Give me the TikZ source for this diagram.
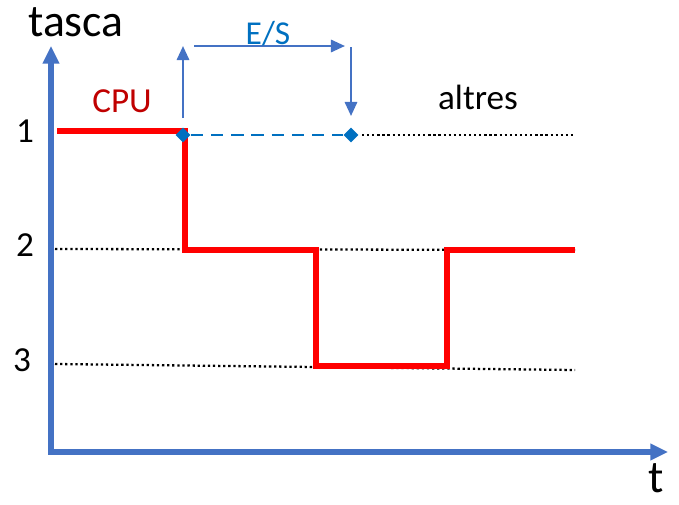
\documentclass[tikz,border=0pt]{standalone}
\usepackage{fontspec}
\setmainfont{Carlito}
\usetikzlibrary{arrows.meta,shapes.geometric}
\definecolor{axisblue}{HTML}{4472C4}
\definecolor{esblue}{HTML}{0070C0}
\definecolor{cpured}{HTML}{C00000}
\tikzset{
  axisline/.style={axisblue, line width=2.9pt, line join=miter,
    {Triangle[length=10pt,width=9pt]}-{Triangle[length=10pt,width=9pt]}},
  esarrow/.style={axisblue, line width=1.3pt, -{Triangle[length=8pt,width=7pt]}},
  levelline/.style={line width=1.3pt, dash pattern=on 1.3pt off 1.6pt},
  taskline/.style={red, line width=3pt, line join=miter},
  esmark/.style={diamond, fill=esblue, inner sep=0pt, minimum size=8.5pt},
  bigtext/.style={font=\fontsize{26}{30}\selectfont},
  midtext/.style={font=\fontsize{20}{24}\selectfont}
}
\begin{document}
\begin{tikzpicture}[x=0.02cm, y=-0.02cm]
  \useasboundingbox (0,0) rectangle (679,504);
  % axes
  \coordinate (O) at (51,452); \coordinate (YT) at (51,46); \coordinate (XT) at (668,452);
  % level lines
  \coordinate (L1a) at (362,135); \coordinate (L1b) at (575,135);
  \coordinate (L2a) at (55,249); \coordinate (L2b) at (575,250);
  \coordinate (L3a) at (55,364); \coordinate (L3b) at (575,370);
  \draw[levelline] (L1a) -- (L1b);
  \draw[levelline] (L2a) -- (L2b);
  \draw[levelline] (L3a) -- (L3b);
  % the task that holds the CPU
  \coordinate (R1) at (57,131); \coordinate (R2) at (185,131);
  \coordinate (R3) at (185,250); \coordinate (R4) at (316,250);
  \coordinate (R5) at (316,366); \coordinate (R6) at (447,366);
  \coordinate (R7) at (447,250); \coordinate (R8) at (575,250);
  \draw[taskline] (R1) -- (R2) -- (R3) -- (R4) -- (R5) -- (R6) -- (R7) -- (R8);
  \draw[axisline] (YT) -- (O) -- (XT);
  % E/S wait
  \node[esmark] (esA) at (183,135) {};
  \node[esmark] (esB) at (351,135) {};
  \draw[esblue, line width=1.3pt, dash pattern=on 7pt off 4.5pt] (esA) -- (esB);
  \coordinate (upA) at (183,118); \coordinate (upB) at (183,46);
  \coordinate (rtA) at (194,46); \coordinate (rtB) at (345,46);
  \coordinate (dnA) at (351,47); \coordinate (dnB) at (351,116);
  \draw[esarrow] (upA) -- (upB);
  \draw[esarrow] (rtA) -- (rtB);
  \draw[esarrow] (dnA) -- (dnB);
  % labels
  \node[bigtext] (tasca) at (76,22) {tasca};
  \node[bigtext, anchor=base, inner sep=0pt] (tlab) at (656,492) {t};
  \node[midtext] (n1) at (25,131) {1};
  \node[midtext] (n2) at (25,245) {2};
  \node[midtext] (n3) at (22,360) {3};
  \node[midtext, text=cpured] (cpu) at (122,101) {CPU};
  \node[esblue, font=\fontsize{19}{23}\selectfont] (es) at (268,34) {E/S};
  \node[midtext] (altres) at (478,97) {altres};
\end{tikzpicture}
\end{document}
